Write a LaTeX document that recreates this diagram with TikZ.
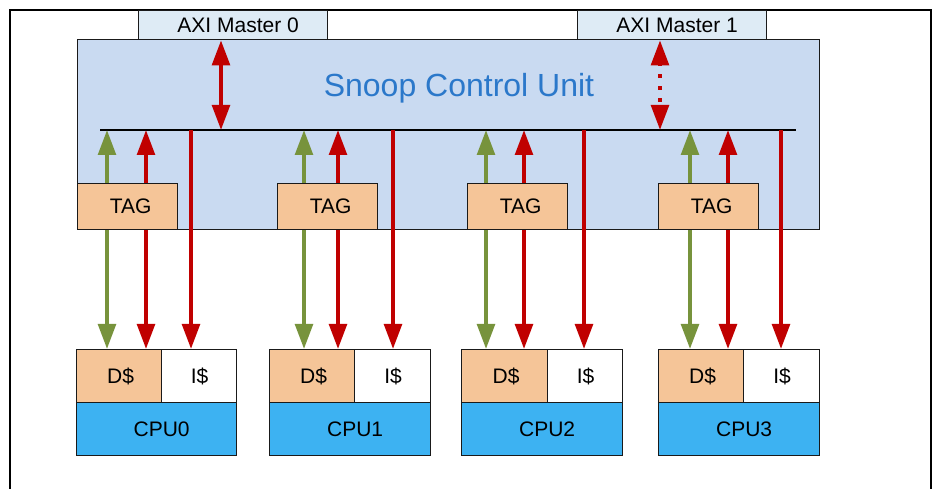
\documentclass[tikz,border=0pt]{standalone}
\usepackage{fontspec}
\setmainfont{Liberation Sans}
\usetikzlibrary{arrows.meta}
\definecolor{redA}{HTML}{C00000}
\definecolor{greenA}{HTML}{77933C}
\definecolor{tagfill}{HTML}{F5C598}
\definecolor{cpufill}{HTML}{3DB2F2}
\definecolor{scufill}{HTML}{C9DAF1}
\definecolor{axifill}{HTML}{DEEBF5}
\definecolor{scutext}{HTML}{2B78CA}
\definecolor{edge}{HTML}{1A1A1A}
\begin{document}
\begin{tikzpicture}[x=1pt,y=-1pt,
  box/.style={draw=edge, line width=1.3pt, inner sep=0pt, anchor=north west},
  lbl/.style={font=\fontsize{21}{24}\selectfont, text=black, inner sep=0pt},
  rarrow/.style={draw=redA, line width=4pt, -{Triangle[length=25pt,width=17.5pt]}},
  garrow/.style={draw=greenA, line width=4pt, -{Triangle[length=25pt,width=17.5pt]}},
  rdouble/.style={draw=redA, line width=4pt, {Triangle[length=25pt,width=17.5pt]}-{Triangle[length=25pt,width=17.5pt]}},
  busline/.style={draw=black, line width=1.3pt}]
\useasboundingbox (0,0) rectangle (938,489);
\clip (0,0) rectangle (938,489);
\draw[line width=2pt, draw=black] (10,10) rectangle (931,520);

% Snoop Control Unit
\node[box, fill=scufill, minimum width=742pt, minimum height=190pt] (scu) at (77,39) {};
\node[font=\fontsize{32}{36}\selectfont, text=scutext, inner sep=0pt] (scut) at (459,88) {Snoop Control Unit};

% AXI masters
\node[box, fill=axifill, minimum width=189pt, minimum height=29pt] (axi0) at (138,10) {};
\node[lbl, xshift=5pt] at (axi0.center) {AXI Master 0};
\node[box, fill=axifill, minimum width=189pt, minimum height=29pt] (axi1) at (577,10) {};
\node[lbl, xshift=5pt] at (axi1.center) {AXI Master 1};

% bus
\coordinate (busL) at (100,130);
\coordinate (busR) at (796,130);
\draw[busline] (busL) -- (busR);

% TAG boxes
\node[box, fill=tagfill, minimum width=100pt, minimum height=46pt] (tag0) at (77,183) {};
\node[lbl, xshift=3pt] at (tag0.center) {TAG};
\node[box, fill=tagfill, minimum width=100pt, minimum height=46pt] (tag1) at (277,183) {};
\node[lbl, xshift=3pt] at (tag1.center) {TAG};
\node[box, fill=tagfill, minimum width=100pt, minimum height=46pt] (tag2) at (467,183) {};
\node[lbl, xshift=3pt] at (tag2.center) {TAG};
\node[box, fill=tagfill, minimum width=100pt, minimum height=46pt] (tag3) at (658,183) {};
\node[lbl, xshift=3pt] at (tag3.center) {TAG};

% CPUs and caches
\node[box, fill=tagfill, minimum width=85pt, minimum height=53pt] (d0) at (76,349) {};
\node[lbl, xshift=1.5pt] at (d0.center) {D\$};
\node[box, fill=white, minimum width=75pt, minimum height=53pt] (i0) at (161,349) {};
\node[lbl, xshift=0.5pt] at (i0.center) {I\$};
\node[box, fill=cpufill, minimum width=160pt, minimum height=53pt] (c0) at (76,402) {};
\node[lbl, xshift=5pt] at (c0.center) {CPU0};

\node[box, fill=tagfill, minimum width=85pt, minimum height=53pt] (d1) at (269,349) {};
\node[lbl, xshift=1.5pt] at (d1.center) {D\$};
\node[box, fill=white, minimum width=76pt, minimum height=53pt] (i1) at (354,349) {};
\node[lbl, xshift=0.5pt] at (i1.center) {I\$};
\node[box, fill=cpufill, minimum width=161pt, minimum height=53pt] (c1) at (269,402) {};
\node[lbl, xshift=5pt] at (c1.center) {CPU1};

\node[box, fill=tagfill, minimum width=86pt, minimum height=53pt] (d2) at (461,349) {};
\node[lbl, xshift=1.5pt] at (d2.center) {D\$};
\node[box, fill=white, minimum width=75pt, minimum height=53pt] (i2) at (547,349) {};
\node[lbl, xshift=0.5pt] at (i2.center) {I\$};
\node[box, fill=cpufill, minimum width=161pt, minimum height=53pt] (c2) at (461,402) {};
\node[lbl, xshift=5pt] at (c2.center) {CPU2};

\node[box, fill=tagfill, minimum width=85pt, minimum height=53pt] (d3) at (658,349) {};
\node[lbl, xshift=1.5pt] at (d3.center) {D\$};
\node[box, fill=white, minimum width=76pt, minimum height=53pt] (i3) at (743,349) {};
\node[lbl, xshift=0.5pt] at (i3.center) {I\$};
\node[box, fill=cpufill, minimum width=161pt, minimum height=53pt] (c3) at (658,402) {};
\node[lbl, xshift=5pt] at (c3.center) {CPU3};

% x positions of the connectors
\coordinate (g0) at (107,0);  \coordinate (r0) at (146,0);  \coordinate (s0) at (191,0);
\coordinate (g1) at (304,0);  \coordinate (r1) at (338,0);  \coordinate (s1) at (393,0);
\coordinate (g2) at (486,0);  \coordinate (r2) at (524,0);  \coordinate (s2) at (584,0);
\coordinate (g3) at (690,0);  \coordinate (r3) at (728,0);  \coordinate (s3) at (781,0);
\coordinate (m0) at (221,0);  \coordinate (m1) at (660,0);

% AXI <-> bus
\draw[rdouble] (m0 |- axi0.south) -- (m0 |- busL);
\draw[rdouble, dash pattern=on 4pt off 8pt, dash phase=2pt] (m1 |- axi1.south) -- (m1 |- busL);

% TAG <-> bus and caches
\foreach \i in {0,1,2,3}{
  \draw[garrow] (g\i |- tag\i.north) -- (g\i |- busL);
  \draw[rarrow] (r\i |- tag\i.north) -- (r\i |- busL);
  \draw[garrow] (g\i |- tag\i.south) -- (g\i |- d\i.north);
  \draw[rarrow] (r\i |- tag\i.south) -- (r\i |- d\i.north);
  \draw[rarrow] (s\i |- busL) -- (s\i |- i\i.north);
}
\end{tikzpicture}
\end{document}
